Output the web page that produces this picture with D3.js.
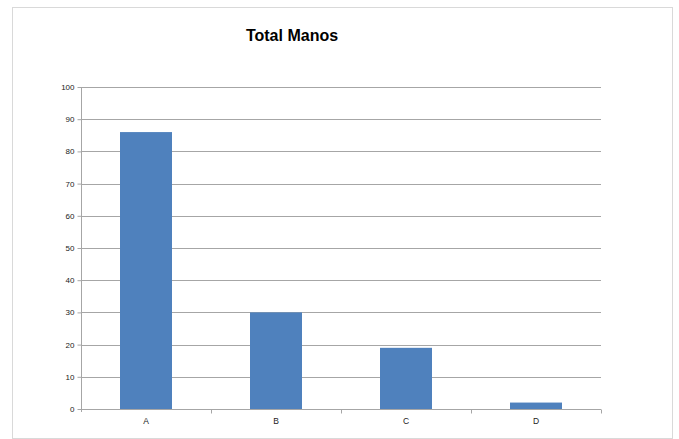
<!DOCTYPE html>
<html><head><meta charset="utf-8">
<script src="https://cdn.jsdelivr.net/npm/d3@7"></script>
<style>html,body{margin:0;padding:0;background:#fff;}svg{display:block;font-family:"Liberation Sans",Arial,sans-serif;}</style>
</head><body>
<svg id="c" width="679" height="439"></svg>
<script>
const categories = ["A","B","C","D"];
const values = [86,30,19,2];
const yTicks = [0,10,20,30,40,50,60,70,80,90,100];
const title = "Total Manos";

const svg = d3.select("#c");
svg.append("rect").attr("x",12.5).attr("y",7.5).attr("width",660).attr("height",431)
  .attr("fill","#fff").attr("stroke","#d9d9d9").attr("stroke-width",1);

const L=81, R=601, T=87, B=409;
const x = d3.scaleBand().domain(categories).range([L,R]).paddingInner(0.6).paddingOuter(0.3);
const y = d3.scaleLinear().domain([0,100]).range([B,T]);

// gridlines
svg.append("g").selectAll("line").data(yTicks.filter(d=>d>0)).join("line")
  .attr("x1",L).attr("x2",R).attr("y1",d=>Math.round(y(d))+0.5).attr("y2",d=>Math.round(y(d))+0.5)
  .attr("stroke","#a6a6a6").attr("stroke-width",1);

// bars
svg.append("g").selectAll("rect").data(categories).join("rect")
  .attr("x",d=>x(d)).attr("width",x.bandwidth())
  .attr("y",(d,i)=>y(values[i])).attr("height",(d,i)=>B-y(values[i]))
  .attr("fill","#4f81bd");

// y axis
const yAxis = d3.axisLeft(y).tickValues(yTicks).tickSize(4).tickPadding(3);
const gy = svg.append("g").attr("transform",`translate(${L+0.5},0)`).call(yAxis);
gy.select(".domain").attr("stroke","#a6a6a6").attr("d",`M0,${T}V${B+3}`);
gy.selectAll(".tick line").attr("stroke","#a6a6a6");
gy.selectAll(".tick text").attr("font-size","8px").attr("fill","#222").attr("font-family","Liberation Sans,Arial,sans-serif");

// x axis
const xAxis = d3.axisBottom(x).tickSize(0).tickPadding(8);
const gx = svg.append("g").attr("transform",`translate(0,${B+0.5})`).call(xAxis);
gx.select(".domain").attr("stroke","#a6a6a6").attr("d",`M${L},0H${R}`);
gx.selectAll(".tick text").attr("font-size","8.5px").attr("fill","#222").attr("font-family","Liberation Sans,Arial,sans-serif");
// category boundary ticks
const bounds = categories.map(c=>x(c)-x.step()*x.paddingInner()/2).slice(1).concat([R]);
gx.append("g").selectAll("line").data(bounds).join("line")
  .attr("x1",d=>Math.round(d)+0.5).attr("x2",d=>Math.round(d)+0.5).attr("y1",0).attr("y2",4)
  .attr("stroke","#a6a6a6");

svg.append("text").attr("x",292).attr("y",41).attr("text-anchor","middle")
  .attr("font-size","16px").attr("font-weight","bold").attr("fill","#000").text(title);
</script>
</body></html>
